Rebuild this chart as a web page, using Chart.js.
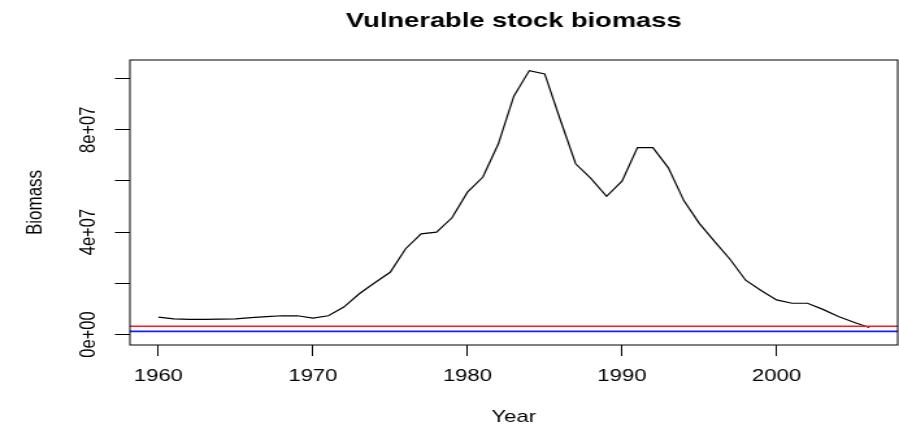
<!DOCTYPE html>
<html><head><meta charset="utf-8">
<script src="https://cdn.jsdelivr.net/npm/chart.js@4/dist/chart.umd.min.js"></script>
<style>html,body{margin:0;padding:0;background:#fff;overflow:hidden}</style></head>
<body><canvas id="c" width="692" height="428" style="display:block;width:899px;height:428px"></canvas>
<script>
const years = [1960,1961,1962,1963,1964,1965,1966,1967,1968,1969,
               1970,1971,1972,1973,1974,1975,1976,1977,1978,1979,
               1980,1981,1982,1983,1984,1985,1986,1987,1988,1989,
               1990,1991,1992,1993,1994,1995,1996,1997,1998,1999,
               2000,2001,2002,2003,2004,2005,2006];
const biomass = [6.8e6,6.1e6,5.9e6,5.9e6,6.0e6,6.1e6,6.6e6,7.0e6,7.3e6,7.3e6,
                 6.4e6,7.3e6,10.7e6,15.9e6,20.2e6,24.3e6,33.5e6,39.3e6,40.0e6,45.6e6,
                 55.6e6,61.5e6,74.5e6,93.1e6,103.1e6,101.8e6,84.0e6,66.7e6,60.9e6,54.0e6,
                 59.9e6,73.0e6,73.0e6,65.1e6,52.3e6,43.4e6,36.3e6,29.3e6,21.2e6,17.2e6,
                 13.5e6,12.2e6,12.2e6,9.8e6,7.0e6,4.8e6,2.7e6];
const redLevel = 3.2e6;
const blueLevel = 1.2e6;
const xRange = [1958.16, 2007.84];
const yRange = [-4.12e6, 1.0725e8];
const xTickValues = [1960, 1970, 1980, 1990, 2000];
const xTickLabels = ["1960", "1970", "1980", "1990", "2000"];
const yTickValues = [0, 2e7, 4e7, 6e7, 8e7, 1e8];
const yTickLabels = ["0e+00", "", "4e+07", "", "8e+07", ""];
const titleText = "Vulnerable stock biomass";
const xTitle = "Year";
const yTitle = "Biomass";

const FONT = "'Liberation Sans', Arial, Helvetica, sans-serif";
Chart.defaults.font.family = FONT;
Chart.defaults.color = '#000';

const textPlugin = {
  id: 'rtext',
  afterDraw(chart) {
    const {ctx, chartArea: a} = chart;
    ctx.save();
    ctx.strokeStyle = '#000';
    ctx.lineWidth = 1;
    ctx.strokeRect(a.left, a.top, a.right - a.left, a.bottom - a.top);
    ctx.fillStyle = '#000';
    ctx.textAlign = 'center';
    ctx.textBaseline = 'alphabetic';
    const cx = (a.left + a.right) / 2;
    ctx.font = "bold 21px " + FONT;
    ctx.fillText(titleText, cx, 26.5);
    ctx.font = "17px " + FONT;
    ctx.fillText(xTitle, cx, 421.5);
    ctx.translate(32.2, (a.top + a.bottom) / 2);
    ctx.rotate(-Math.PI / 2);
    ctx.fillText(yTitle, 0, 0);
    ctx.restore();
  }
};

const pts = years.map((y, i) => ({x: y, y: biomass[i]}));
new Chart(document.getElementById('c'), {
  type: 'line',
  data: {
    datasets: [
      {data: [{x: xRange[0], y: blueLevel}, {x: xRange[1], y: blueLevel}], borderColor: '#1a1aff', borderWidth: 1.7, pointRadius: 0, tension: 0},
      {data: [{x: xRange[0], y: redLevel}, {x: xRange[1], y: redLevel}], borderColor: '#ff1a1a', borderWidth: 1.6, pointRadius: 0, tension: 0},
      {data: pts, borderColor: '#000', borderWidth: 1.2, pointRadius: 0, tension: 0}
    ]
  },
  options: {
    responsive: false,
    animation: false,
    devicePixelRatio: 1,
    layout: {padding: {top: 60, left: 0, right: 1, bottom: 0}},
    plugins: {legend: {display: false}, tooltip: {enabled: false}, title: {display: false}},
    scales: {
      x: {
        type: 'linear', min: xRange[0], max: xRange[1],
        afterBuildTicks: s => { s.ticks = xTickValues.map(v => ({value: v})); },
        afterFit: s => { s.height = 83; },
        border: {display: false},
        grid: {display: true, drawOnChartArea: false, drawTicks: true, tickLength: 11, tickColor: '#000', tickWidth: 1},
        ticks: {autoSkip: false, maxRotation: 0, minRotation: 0, padding: 10, font: {size: 17}, color: '#000',
                callback: v => xTickLabels[xTickValues.indexOf(v)]}
      },
      y: {
        type: 'linear', min: yRange[0], max: yRange[1],
        afterBuildTicks: s => { s.ticks = yTickValues.map(v => ({value: v})); },
        afterFit: s => { s.width = 100; },
        border: {display: false},
        grid: {display: true, drawOnChartArea: false, drawTicks: true, tickLength: 11.5, tickColor: '#000', tickWidth: 1},
        ticks: {autoSkip: false, minRotation: 90, maxRotation: 90, crossAlign: 'center', padding: -3, font: {size: 16.5}, color: '#000',
                callback: v => yTickLabels[yTickValues.indexOf(v)]}
      }
    }
  },
  plugins: [textPlugin]
});
</script>
</body></html>
